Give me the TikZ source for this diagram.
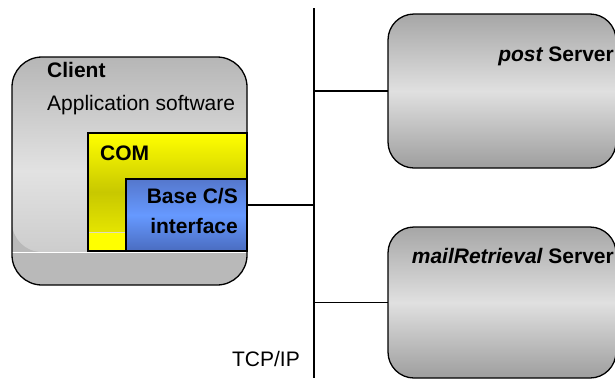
\documentclass[tikz,border=0pt]{standalone}
\usepackage{fontspec}
\setmainfont{Liberation Sans}
\definecolor{clienttop}{HTML}{B6B6B6}
\definecolor{clientmid}{HTML}{E2E2E2}
\definecolor{clientlow}{HTML}{C4C4C4}
\definecolor{clientband}{HTML}{B9B9B9}
\definecolor{servertop}{HTML}{A6A6A6}
\definecolor{servermid}{HTML}{E0E0E0}
\definecolor{serverlow}{HTML}{9E9E9E}
\definecolor{comtop}{HTML}{FFFF00}
\definecolor{commid}{HTML}{C8C800}
\definecolor{comlow}{HTML}{F2F200}
\definecolor{csitop}{HTML}{5577CC}
\definecolor{csimid}{HTML}{6699FF}
\definecolor{csilow}{HTML}{4A6CC0}
\begin{document}
\begin{tikzpicture}[x=1pt,y=-1pt,
  font=\fontsize{21pt}{25pt}\selectfont,
  every node/.style={inner sep=0pt},
  roundbox/.style={draw=black, line width=1.3pt, rounded corners=#1,
    anchor=north west, outer sep=0pt},
  flatbox/.style={draw=black, line width=1.2pt, anchor=north west, outer sep=0pt},
  wire/.style={draw=black, line width=1.2pt}]
\useasboundingbox (0,0) rectangle (615,378);

% client machine: shaded body above a plain grey base band
\node[roundbox=30pt, minimum width=235pt, minimum height=228pt, fill=clientband,
  path picture={
    \shade[top color=clienttop, bottom color=clientlow, middle color=clientmid]
      (path picture bounding box.north west)
      rectangle ([yshift=33pt]path picture bounding box.south east);
    \draw[white, line width=1.2pt]
      ([yshift=32.5pt]path picture bounding box.south west)
      -- ([yshift=32.5pt]path picture bounding box.south east);
  }] (client) at (12,57) {};

% COM layer
\node[flatbox, minimum width=159pt, minimum height=118pt, fill=comtop,
  path picture={
    \shade[top color=comtop, bottom color=comlow, middle color=commid]
      (path picture bounding box.north west)
      rectangle ([yshift=19pt]path picture bounding box.south east);
    \draw[white!80!yellow!70!gray, line width=0.8pt]
      ([yshift=19pt]path picture bounding box.south west)
      -- ([yshift=19pt]path picture bounding box.south east);
  }] (com) at (88,133) {};

% base client/server interface
\node[flatbox, minimum width=121pt, minimum height=72pt,
  top color=csitop, bottom color=csilow, middle color=csimid] (csi) at (126,179) {};

% servers
\node[roundbox=26pt, minimum width=228pt, minimum height=154pt,
  top color=servertop, bottom color=serverlow, middle color=servermid] (post) at (388,14) {};
\node[roundbox=26pt, minimum width=228pt, minimum height=151pt,
  top color=servertop, bottom color=serverlow, middle color=servermid] (mail) at (388,227) {};

% TCP/IP bus and its taps
\coordinate (bustop) at (314,8);
\coordinate (busbot) at (314,378);
\draw[wire] (bustop) -- (busbot);
\coordinate (cport) at ([yshift=-26pt]csi.north east);
\draw[wire] (cport) -- (cport -| bustop);
\draw[wire] (post.west -| bustop) -- (post.west);
\draw[wire] (mail.west -| bustop) -- (mail.west);

% labels
\node[anchor=base west] (tclient) at (47,77) {\bfseries Client};
\node[anchor=base west] (tapp) at (47,110) {Application software};
\node[anchor=base west] (tcom) at (100,160) {\bfseries COM};
\node[anchor=base east] (tbase) at (238,203) {\bfseries Base C/S};
\node[anchor=base east] (tiface) at (238,233) {\bfseries interface};
\node[anchor=base east] (tpost) at (614,61) {\bfseries\itshape post\upshape{} Server};
\node[anchor=base east] (tmail) at (614,263) {\bfseries\itshape mailRetrieval\upshape{} Server};
\node[anchor=base east] (ttcp) at (300,366) {TCP/IP};
\end{tikzpicture}
\end{document}
